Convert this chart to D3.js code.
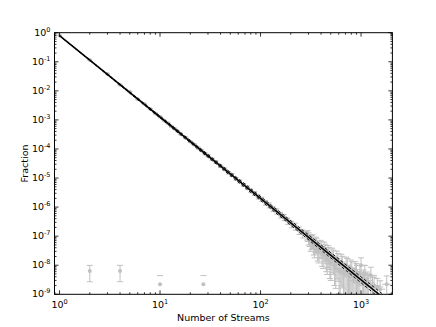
<!DOCTYPE html>
<html><head><meta charset="utf-8">
<script src="https://cdn.jsdelivr.net/npm/d3@7"></script>
<style>body{margin:0;background:#fff;} svg{display:block;font-family:"DejaVu Sans",sans-serif;}</style>
</head><body>
<svg id="c" width="436" height="327"></svg>
<script>
// Main data (x = number of streams, y = fraction, relErr = relative y error)
const streams = [1,2,3,4,5,6,7,8,9,10,11,12,13,14,15,16,18,20,22,24,26,28,30,33,36,40,44,48,52,57,62,68,74,80,87,95,103,112,122,133,145,158,172,187,204,222,242,263,286];
const fraction = [0.80,0.115,0.038,0.0162,0.0093,0.0051,0.00355,0.00238,0.00165,0.00128,9.5e-4,7.7e-4,5.9e-4,4.95e-4,4.1e-4,3.3e-4,2.45e-4,1.78e-4,1.41e-4,1.07e-4,8.8e-5,6.9e-5,5.9e-5,4.4e-5,3.55e-5,2.55e-5,2.02e-5,1.53e-5,1.27e-5,9.4e-6,7.7e-6,5.8e-6,4.7e-6,3.65e-6,3.0e-6,2.26e-6,1.87e-6,1.42e-6,1.16e-6,8.8e-7,7.2e-7,5.4e-7,4.5e-7,3.35e-7,2.6e-7,2.2e-7,1.6e-7,1.25e-7,1.1e-7];
const relErr = [0.01,0.01,0.02,0.02,0.02,0.03,0.03,0.03,0.04,0.04,0.04,0.05,0.05,0.05,0.05,0.06,0.06,0.06,0.07,0.07,0.07,0.08,0.08,0.08,0.09,0.09,0.1,0.1,0.11,0.11,0.12,0.12,0.13,0.14,0.15,0.16,0.17,0.18,0.19,0.2,0.21,0.22,0.23,0.24,0.25,0.27,0.29,0.31,0.33];
// Tail data
const tailStreams = [295,300,308,315,322,330,338,345,352,360,370,380,390,400,410,420,430,440,450,460,470,480,490,500,515,530,545,560,575,590,605,620,635,650,670,690,710,730,750,770,790,810,830,850,875,900,925,950,975,1000,1030,1060,1090,1120,1150,1180,1250,1300,1350,1450,1550,1800];
const tailFraction = [1.1e-7,9e-8,8e-8,6e-8,7e-8,7.5e-8,5e-8,4e-8,6e-8,5.5e-8,3.5e-8,3e-8,4.5e-8,4.2e-8,2.6e-8,2.2e-8,3.8e-8,3.2e-8,2e-8,1.6e-8,2.8e-8,2.4e-8,1.4e-8,1.2e-8,2.2e-8,1.9e-8,1e-8,8e-9,1.7e-8,1.4e-8,7e-9,6e-9,1.3e-8,1.1e-8,6e-9,5e-9,1e-8,9e-9,5e-9,4e-9,8e-9,7e-9,4e-9,3e-9,7e-9,6e-9,3e-9,2.5e-9,5e-9,1.0e-8,3e-9,3.5e-9,5e-9,2e-9,3e-9,2.5e-9,4.5e-9,2e-9,2e-9,1.8e-9,1.5e-9,2.2e-9];
const tailRelErr = [0.4,0.45,0.45,0.5,0.5,0.5,0.55,0.55,0.55,0.55,0.6,0.6,0.6,0.6,0.65,0.65,0.65,0.65,0.7,0.7,0.7,0.7,0.75,0.75,0.75,0.75,0.8,0.8,0.8,0.8,0.85,0.85,0.85,0.85,0.9,0.9,0.9,0.9,0.9,0.9,0.9,0.9,0.95,0.95,0.9,0.9,0.95,0.95,0.95,0.8,0.95,0.95,0.95,0.95,0.95,0.95,0.9,0.95,0.95,0.95,0.95,0.95];
const tailXRelErr = [0.04,0.05,0.05,0.05,0.05,0.05,0.05,0.05,0.05,0.05,0.06,0.06,0.06,0.06,0.06,0.06,0.06,0.06,0.07,0.07,0.07,0.07,0.07,0.07,0.08,0.08,0.08,0.08,0.08,0.08,0.1,0.1,0.1,0.1,0.1,0.1,0.1,0.1,0.12,0.12,0.12,0.12,0.12,0.12,0.12,0.12,0.15,0.15,0.15,0.15,0.15,0.15,0.15,0.15,0.15,0.15,0.15,0.15,0.15,0.15,0.12,0.1];
// Outliers at the floor
const lowStreams = [2,4,10,27];
const lowFraction = [6.3e-9,6.3e-9,2.2e-9,2.2e-9];
const lowRelErr = [0.57,0.57,1.0,1.0];
// Power-law fit lines (end points)
const fitX = [1,1510];
const fitY = [0.79,1e-9];
const fitUpX = [1,1650];
const fitUpY = [0.79,1e-9];
const fitLoX = [1,1380];
const fitLoY = [0.79,1e-9];
const xTicks = [1,10,100,1000];
const yTicks = [1,1e-1,1e-2,1e-3,1e-4,1e-5,1e-6,1e-7,1e-8,1e-9];

const svg = d3.select("#c");
const L=54.5, R=392.4, T=32.7, B=294.3;
const x = d3.scaleLog().domain([Math.pow(10,-0.05), Math.pow(10,3.312)]).range([L,R]);
const y = d3.scaleLog().domain([1e-9,1]).range([B,T]);
const gray = "#c0c0c0";

svg.append("defs").append("clipPath").attr("id","pc").append("rect")
  .attr("x",L).attr("y",T).attr("width",R-L).attr("height",B-T);
const plot = svg.append("g").attr("clip-path","url(#pc)");

function errbar(px, py, r, xr, cap){
  const g = plot.append("g").attr("stroke",gray).attr("stroke-width",1).attr("fill","none");
  const cx = x(px), cy = y(py);
  const hi = y(py*(1+r));
  if (r < 1) {
    const lo = y(py*(1-r));
    g.append("line").attr("x1",cx).attr("x2",cx).attr("y1",hi).attr("y2",lo);
    g.append("line").attr("x1",cx-cap).attr("x2",cx+cap).attr("y1",lo).attr("y2",lo);
  }
  g.append("line").attr("x1",cx-cap).attr("x2",cx+cap).attr("y1",hi).attr("y2",hi);
  if (xr) {
    g.append("line").attr("x1",x(px*(1-xr))).attr("x2",x(px*(1+xr))).attr("y1",cy).attr("y2",cy);
  }
  plot.append("circle").attr("cx",cx).attr("cy",cy).attr("r",2).attr("fill",gray).attr("stroke","none");
}
streams.forEach((s,i)=>errbar(s,fraction[i],relErr[i],0,2.5));
tailStreams.forEach((s,i)=>errbar(s,tailFraction[i],tailRelErr[i],tailXRelErr[i],3));
lowStreams.forEach((s,i)=>errbar(s,lowFraction[i],lowRelErr[i],0,3));

const line = d3.line().x(d=>x(d[0])).y(d=>y(d[1]));
plot.append("path").attr("d",line(fitUpX.map((v,i)=>[v,fitUpY[i]]))).attr("stroke","#000").attr("stroke-width",0.9).attr("stroke-dasharray","3,2").attr("fill","none");
plot.append("path").attr("d",line(fitLoX.map((v,i)=>[v,fitLoY[i]]))).attr("stroke","#000").attr("stroke-width",0.9).attr("stroke-dasharray","3,2").attr("fill","none");
plot.append("path").attr("d",line(fitX.map((v,i)=>[v,fitY[i]]))).attr("stroke","#000").attr("stroke-width",1.6).attr("fill","none");

// ticks
const tk = svg.append("g").attr("stroke","#000").attr("stroke-width",0.8);
function minorTicks(dom){
  const out=[]; const a=Math.floor(Math.log10(dom[0])), b=Math.ceil(Math.log10(dom[1]));
  for(let e=a;e<=b;e++) for(let m=1;m<10;m++){const v=m*Math.pow(10,e); if(v>=dom[0]&&v<=dom[1]) out.push([v,m===1]);}
  return out;
}
minorTicks(x.domain()).forEach(([v,maj])=>{
  const px=x(v), len=maj?4:2;
  tk.append("line").attr("x1",px).attr("x2",px).attr("y1",B).attr("y2",B-len);
  tk.append("line").attr("x1",px).attr("x2",px).attr("y1",T).attr("y2",T+len);
});
minorTicks(y.domain()).forEach(([v,maj])=>{
  const py=y(v), len=maj?4:2;
  tk.append("line").attr("x1",L).attr("x2",L+len).attr("y1",py).attr("y2",py);
  tk.append("line").attr("x1",R).attr("x2",R-len).attr("y1",py).attr("y2",py);
});
svg.append("rect").attr("x",L).attr("y",T).attr("width",R-L).attr("height",B-T).attr("fill","none").attr("stroke","#000").attr("stroke-width",1);

// tick labels
xTicks.forEach(v=>{
  const t = svg.append("text").attr("x",x(v)).attr("y",B+14).attr("text-anchor","middle").attr("font-size",9.5).attr("fill","#000");
  t.append("tspan").text("10");
  t.append("tspan").attr("dy",-4).attr("font-size",6.5).text(String(Math.round(Math.log10(v))));
});
yTicks.forEach(v=>{
  const e = Math.round(Math.log10(v));
  const t = svg.append("text").attr("x",L-4).attr("y",y(v)+3).attr("text-anchor","end").attr("font-size",9.5).attr("fill","#000");
  t.append("tspan").text("10");
  t.append("tspan").attr("dy",-4).attr("font-size",6.5).text(e===0?"0":"-"+(-e));
});
svg.append("text").attr("x",(L+R)/2).attr("y",321).attr("text-anchor","middle").attr("font-size",9.5).text("Number of Streams");
svg.append("text").attr("transform",`translate(28,${(T+B)/2}) rotate(-90)`).attr("text-anchor","middle").attr("font-size",9.5).text("Fraction");
</script>
</body></html>
